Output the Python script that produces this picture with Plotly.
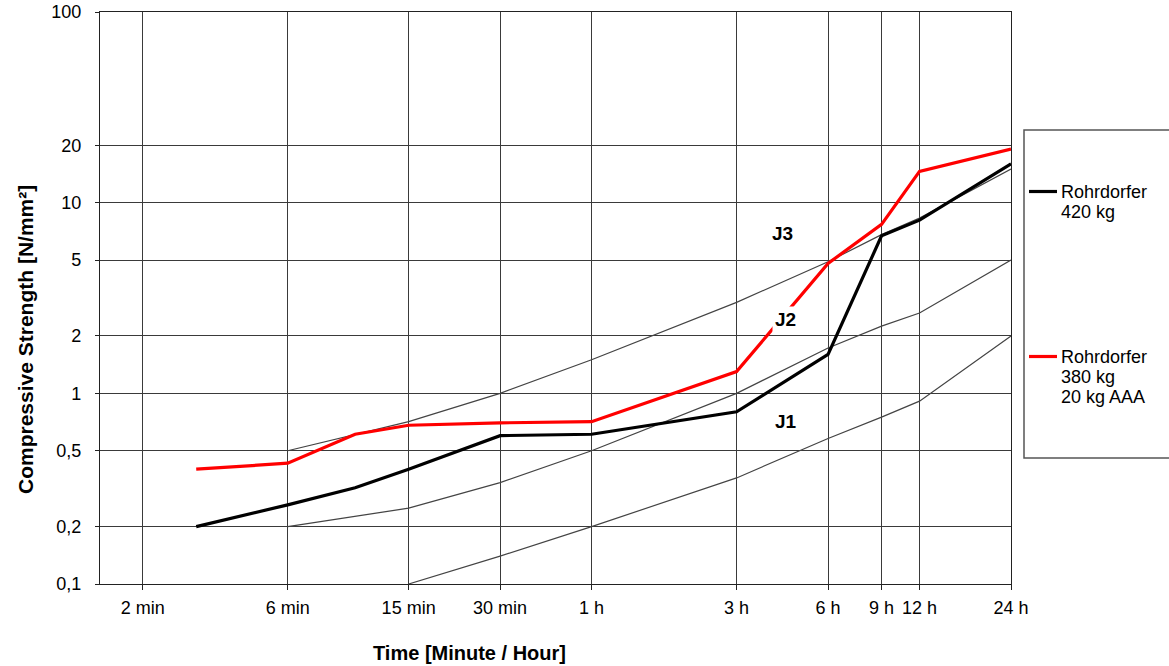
import math
import plotly.graph_objects as go

# ---- data -------------------------------------------------------------
# test ages in minutes
time_min = [3, 6, 10, 15, 30, 60, 180, 360, 540, 720, 1440]
strength_420 = [0.20, 0.26, 0.32, 0.40, 0.60, 0.61, 0.80, 1.6, 6.7, 8.1, 16.0]
strength_380_aaa = [0.40, 0.43, 0.61, 0.68, 0.70, 0.71, 1.3, 4.8, 7.7, 14.6, 19.1]
series_names = [["Rohrdorfer", "420 kg"], ["Rohrdorfer", "380 kg", "20 kg AAA"]]

# early-strength class boundaries J1 / J2 / J3
j3_time = [6, 15, 30, 60, 180, 360, 540, 720, 1440]
j3_limit = [0.5, 0.71, 1.0, 1.5, 3.0, 4.9, 6.8, 8.3, 15.0]
j2_time = [6, 15, 30, 60, 180, 360, 540, 720, 1440]
j2_limit = [0.2, 0.25, 0.34, 0.5, 1.0, 1.73, 2.25, 2.64, 5.0]
j1_time = [15, 30, 60, 180, 360, 540, 720, 1440]
j1_limit = [0.1, 0.14, 0.2, 0.36, 0.58, 0.75, 0.91, 2.0]

# axis ticks
x_tick_vals = [2, 6, 15, 30, 60, 180, 360, 540, 720, 1440]
x_tick_text = ["2 min", "6 min", "15 min", "30 min", "1 h", "3 h", "6 h", "9 h", "12 h", "24 h"]
y_tick_vals = [0.1, 0.2, 0.5, 1, 2, 5, 10, 20, 100]
y_tick_text = ["0,1", "0,2", "0,5", "1", "2", "5", "10", "20", "100"]

# class labels: (text, time in min, strength)
class_labels = [("J3", 255, 6.9), ("J2", 260, 2.45), ("J1", 262, 0.71)]

# ---- layout geometry (pixels) --------------------------------------------
W, H = 1169, 666
ML, MR, MT, MB = 100, 158, 12, 82
PW, PH = W - ML - MR, H - MT - MB


def px(x):
    return (x - ML) / PW


def py(y):
    return (H - MB - y) / PH


FONT = "Liberation Sans, Arial, sans-serif"
COL_420 = "#000000"
COL_380 = "#ff0000"
GRID = "#3a3a3a"

fig = go.Figure()

for t, v in [(j3_time, j3_limit), (j2_time, j2_limit), (j1_time, j1_limit)]:
    fig.add_trace(go.Scatter(x=t, y=v, mode="lines",
                             line=dict(color="#444444", width=1.2),
                             hoverinfo="skip", showlegend=False))

fig.add_trace(go.Scatter(x=time_min, y=strength_420, mode="lines",
                         name=" ".join(series_names[0]),
                         line=dict(color=COL_420, width=3.2), showlegend=False))
fig.add_trace(go.Scatter(x=time_min, y=strength_380_aaa, mode="lines",
                         name=" ".join(series_names[1]),
                         line=dict(color=COL_380, width=3.2), showlegend=False))

annotations = []
for text, t, v in class_labels:
    annotations.append(dict(x=math.log10(t), y=math.log10(v), xref="x", yref="y",
                            text=f"<b>{text}</b>", showarrow=False,
                            font=dict(family=FONT, size=19, color="#000"),
                            bgcolor="#ffffff", borderpad=2))

# axis titles
annotations.append(dict(x=px(469), y=py(653), xref="paper", yref="paper",
                        yanchor="middle", xanchor="center",
                        text="<b>Time [Minute / Hour]</b>", showarrow=False,
                        font=dict(family=FONT, size=20, color="#000")))
annotations.append(dict(x=px(25), y=py(340), xref="paper", yref="paper",
                        yanchor="middle", xanchor="center",
                        text="<b>Compressive Strength [N/mm²]</b>", showarrow=False,
                        textangle=-90, font=dict(family=FONT, size=21, color="#000")))

# legend panel
shapes = [dict(type="rect", xref="paper", yref="paper",
               x0=px(1024), x1=px(1185), y0=py(458), y1=py(130),
               line=dict(color="#555", width=1.5), fillcolor="#fff", layer="below")]
legend_rows = [(series_names[0], COL_420, 191.5), (series_names[1], COL_380, 356.5)]
for lines, col, y0 in legend_rows:
    shapes.append(dict(type="line", xref="paper", yref="paper",
                       x0=px(1029), x1=px(1057), y0=py(y0), y1=py(y0),
                       line=dict(color=col, width=3.2)))
    for i, s in enumerate(lines):
        annotations.append(dict(x=px(1059), y=py(y0 + 20.3 * i), xref="paper", yref="paper",
                                text=s, showarrow=False, xanchor="left", yanchor="middle",
                                font=dict(family=FONT, size=18, color="#000")))

axis_common = dict(type="log", showline=True, mirror=True, linecolor="#222", linewidth=1.3,
                   showgrid=True, gridcolor=GRID, gridwidth=1.3, zeroline=False,
                   automargin=False,
                   ticks="outside", tickcolor="#222", tickwidth=1.3,
                   tickfont=dict(family=FONT, size=18, color="#000"))

fig.update_layout(
    width=W, height=H,
    margin=dict(l=ML, r=MR, t=MT, b=MB, autoexpand=False),
    paper_bgcolor="#fff", plot_bgcolor="#fff",
    showlegend=False,
    xaxis=dict(axis_common, range=[math.log10(1.447), math.log10(1440)],
               tickmode="array", tickvals=x_tick_vals, ticktext=x_tick_text,
               ticklen=5, ticklabelstandoff=2),
    yaxis=dict(axis_common, range=[-1, 2],
               tickmode="array", tickvals=y_tick_vals, ticktext=y_tick_text,
               ticklen=4, ticklabelstandoff=10),
    annotations=annotations,
    shapes=shapes,
)

fig.write_html("out.html")
